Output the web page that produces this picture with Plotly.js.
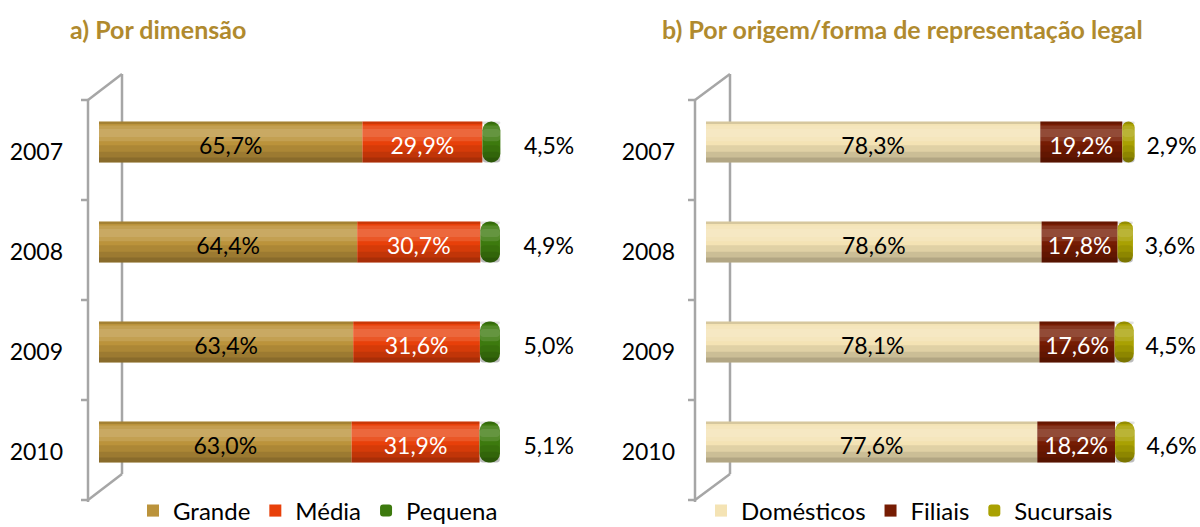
<!DOCTYPE html>
<html>
<head>
<meta charset="utf-8">
<script src="https://cdn.plot.ly/plotly-3.0.1.min.js"></script>
<style>html,body{margin:0;padding:0;background:#fff;}#chart{width:1200px;height:527px;}</style>
</head>
<body>
<div id="chart"></div>
<script>
// ---- data ----
const years = ['2007', '2008', '2009', '2010'];
const namesA = ['Grande', 'Média', 'Pequena'];
const grande  = [65.7, 64.4, 63.4, 63.0];
const media   = [29.9, 30.7, 31.6, 31.9];
const pequena = [4.5, 4.9, 5.0, 5.1];
const namesB = ['Domésticos', 'Filiais', 'Sucursais'];
const domesticos = [78.3, 78.6, 78.1, 77.6];
const filiais    = [19.2, 17.8, 17.6, 18.2];
const sucursais  = [2.9, 3.6, 4.5, 4.6];
const titleA = 'a) Por dimensão';
const titleB = 'b) Por origem/forma de representação legal';

// ---- styles ----
const FONT = 'Lato, "Open Sans", sans-serif';
const colorsA = ['#BB933B', '#E8400A', '#3D7A0E'];
const colorsB = ['#F4E3B4', '#761C03', '#A9A102'];
const textColorsA = ['#000', '#fff'];
const textColorsB = ['#000', '#fff'];
const W = 1200, H = 527;
const px = x => x / W;
const py = y => 1 - y / H;

// shading profile across the bar thickness (t from top 0 to bottom 1)
const BAR_W = 0.41;
const bands = [
  { t0: 0.00, t1: 0.06, c: 'rgba(0,0,0,0.12)' },
  { t0: 0.10, t1: 0.48, c: 'rgba(255,255,255,0.12)' },
  { t0: 0.18, t1: 0.38, c: 'rgba(255,255,255,0.10)' },
  { t0: 0.58, t1: 1.00, c: 'rgba(0,0,0,0.08)' },
  { t0: 0.74, t1: 1.00, c: 'rgba(0,0,0,0.09)' },
  { t0: 0.88, t1: 1.00, c: 'rgba(0,0,0,0.12)' }
];

function buildPanel(seriesVals, names, colors, textColors, xa, ya, yt, legendId, outsidePad) {
  const traces = [];
  const n = seriesVals[0].length;
  let bases = new Array(n).fill(0);
  const allBases = [];
  seriesVals.forEach((vals, i) => {
    allBases.push(bases.slice());
    const isLast = i === seriesVals.length - 1;
    traces.push({
      type: 'bar', orientation: 'h', name: names[i], x: vals, y: years, base: bases.slice(),
      width: BAR_W, xaxis: xa, yaxis: ya, legend: legendId,
      marker: { color: colors[i], line: { width: 0 }, cornerradius: isLast ? 9 : 0 },
      hoverinfo: 'skip'
    });
    bands.forEach(b => {
      traces.push({
        type: 'bar', orientation: 'h', x: vals, y: years, base: bases.slice(),
        width: (b.t1 - b.t0) * BAR_W, offset: -BAR_W / 2 + b.t0 * BAR_W,
        xaxis: xa, yaxis: ya, showlegend: false,
        marker: { color: b.c, line: { width: 0 }, cornerradius: isLast ? 4 : 0 },
        hoverinfo: 'skip'
      });
    });
    bases = bases.map((b, k) => b + vals[k]);
  });
  // inside labels
  seriesVals.forEach((vals, i) => {
    if (i === seriesVals.length - 1) return;
    traces.push({
      type: 'scatter', mode: 'text', xaxis: xa, yaxis: yt, showlegend: false,
      x: vals.map((v, k) => allBases[i][k] + v / 2), y: years,
      customdata: vals, texttemplate: '%{customdata:.1f}%', textposition: 'middle center',
      textfont: { family: FONT, size: 23, color: textColors[i] }, hoverinfo: 'skip', cliponaxis: false
    });
  });
  // outside labels for the last series
  const li = seriesVals.length - 1;
  traces.push({
    type: 'scatter', mode: 'text', xaxis: xa, yaxis: yt, showlegend: false,
    x: seriesVals[li].map((v, k) => allBases[li][k] + v), y: years,
    customdata: seriesVals[li], texttemplate: outsidePad + '%{customdata:.1f}%', textposition: 'middle right',
    textfont: { family: FONT, size: 23, color: '#000' }, hoverinfo: 'skip', cliponaxis: false
  });
  return traces;
}

const data = [].concat(
  buildPanel([grande, media, pequena], namesA, colorsA, textColorsA, 'x', 'y', 'y3', 'legend', '\u00a0\u00a0\u00a0\u00a0'),
  buildPanel([domesticos, filiais, sucursais], namesB, colorsB, textColorsB, 'x2', 'y2', 'y4', 'legend2', '\u00a0\u00a0')
);

const gray = '#A6A6A6';
function wall(xf, xb) {
  const L = { color: gray, width: 2.5 };
  const s = [
    { x0: xf, y0: 100, x1: xf, y1: 502 },
    { x0: xb, y0: 74, x1: xb, y1: 474 },
    { x0: xf, y0: 100, x1: xb, y1: 74 },
    { x0: xf, y0: 500, x1: xb, y1: 474 }
  ];
  [100, 200, 300, 400, 500].forEach(t => s.push({ x0: xf - 7, y0: t, x1: xf, y1: t }));
  return s.map(o => ({ type: 'line', xref: 'paper', yref: 'paper', layer: 'below',
    x0: px(o.x0), x1: px(o.x1), y0: py(o.y0), y1: py(o.y1), line: L }));
}

const yCommon = {
  type: 'category', categoryorder: 'array', categoryarray: years,
  range: [3.5, -0.5], showgrid: false, zeroline: false, showline: false, ticks: '',
  tickfont: { family: FONT, size: 23, color: '#000' },
  ticklabelshift: -10, fixedrange: true
};
// overlay axis for the value labels, offset slightly so labels sit like the reference
const yText = {
  type: 'category', categoryorder: 'array', categoryarray: years,
  range: [3.44, -0.56], visible: false, fixedrange: true
};
const xCommon = {
  range: [0, 102], showgrid: false, zeroline: false, showline: false,
  showticklabels: false, ticks: '', fixedrange: true
};

const legendCommon = {
  orientation: 'h', y: py(511), yanchor: 'middle', xanchor: 'left',
  font: { family: FONT, size: 24, color: '#000' }, bgcolor: 'rgba(0,0,0,0)', itemwidth: 30
};

const layout = {
  width: W, height: H,
  margin: { l: 0, r: 0, t: 0, b: 0, pad: 0, autoexpand: false },
  paper_bgcolor: '#fff', plot_bgcolor: 'rgba(0,0,0,0)',
  barmode: 'overlay', separators: ', ', hovermode: false,
  font: { family: FONT, size: 22, color: '#000' },
  xaxis: Object.assign({ domain: [px(99), px(508)], anchor: 'y' }, xCommon),
  yaxis: Object.assign({ domain: [py(492), py(92)], anchor: 'x', ticklabelstandoff: 35 }, yCommon),
  yaxis3: Object.assign({ anchor: 'x', overlaying: 'y' }, yText),
  xaxis2: Object.assign({ domain: [px(706), px(1141.5)], anchor: 'y2' }, xCommon),
  yaxis2: Object.assign({ domain: [py(492), py(92)], anchor: 'x2', ticklabelstandoff: 30 }, yCommon),
  yaxis4: Object.assign({ anchor: 'x2', overlaying: 'y2' }, yText),
  showlegend: true,
  legend: Object.assign({ x: px(133) }, legendCommon),
  legend2: Object.assign({ x: px(701) }, legendCommon),
  annotations: [
    { text: '<b>' + titleA + '</b>', xref: 'paper', yref: 'paper', x: px(158), y: py(29),
      xanchor: 'center', yanchor: 'middle', showarrow: false,
      font: { family: FONT, size: 25, color: '#B08A2E' } },
    { text: '<b>' + titleB + '</b>', xref: 'paper', yref: 'paper', x: px(902), y: py(29),
      xanchor: 'center', yanchor: 'middle', showarrow: false,
      font: { family: FONT, size: 25, color: '#B08A2E' } }
  ],
  shapes: wall(88, 122).concat(wall(695, 730))
};

Plotly.newPlot('chart', data, layout, { staticPlot: true, displayModeBar: false });
</script>
</body>
</html>
